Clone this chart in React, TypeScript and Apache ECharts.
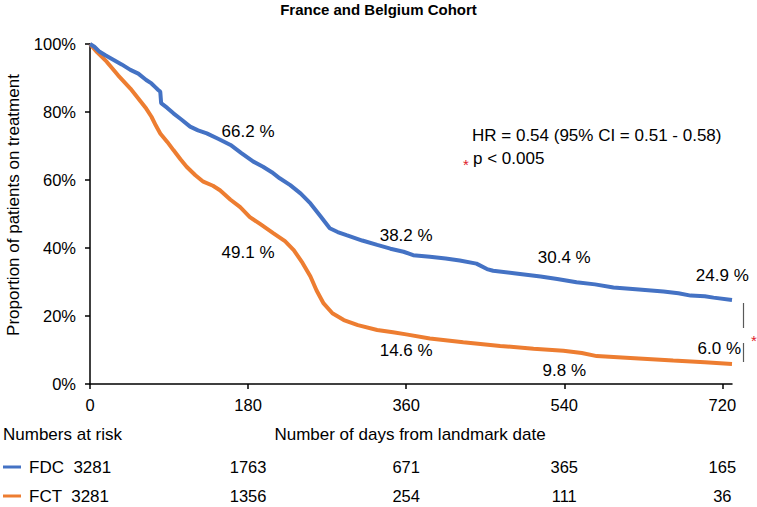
import React, { useEffect, useRef } from "react";
import * as echarts from "echarts";

const TITLE = "France and Belgium Cohort";
const Y_NAME = "Proportion of patients on treatment";
const X_NAME = "Number of days from landmark date";
const RISK_TITLE = "Numbers at risk";

const X_TICKS = [0, 180, 360, 540, 720];
const Y_TICKS = [0, 20, 40, 60, 80, 100];

const FDC_DAYS = [0, 5, 11, 18, 27, 36, 46, 55, 64, 70, 74, 78, 80, 81, 88, 95, 104, 114, 123, 133, 147, 160, 172, 186, 197, 207, 216, 228, 240, 251, 262, 273, 282, 292, 310, 327, 342, 357, 368, 387, 405, 421, 440, 452, 459, 485, 513, 532, 554, 575, 596, 625, 653, 670, 684, 700, 710, 731];
const FDC_PCT = [100, 99.2, 97.7, 96.6, 95.3, 94.0, 92.4, 91.3, 89.4, 88.4, 87.4, 86.4, 86.0, 82.6, 81.2, 79.6, 77.8, 75.7, 74.6, 73.7, 72.0, 70.3, 68.0, 65.4, 63.9, 62.3, 60.5, 58.5, 56.0, 53.1, 49.5, 45.8, 44.7, 43.8, 42.2, 40.9, 39.8, 38.9, 37.9, 37.4, 36.9, 36.3, 35.4, 33.8, 33.3, 32.5, 31.6, 30.9, 29.9, 29.3, 28.4, 27.8, 27.2, 26.7, 26.0, 25.8, 25.4, 24.7];

const FCT_DAYS = [0, 8, 19, 32, 46, 55, 64, 70, 75, 80, 88, 95, 103, 110, 120, 129, 140, 148, 160, 171, 182, 194, 209, 222, 232, 242, 251, 258, 266, 276, 289, 305, 327, 345, 360, 387, 425, 467, 505, 539, 560, 577, 620, 664, 700, 731];
const FCT_PCT = [100, 97.6, 94.8, 90.8, 86.9, 84.0, 81.0, 78.6, 76.0, 73.7, 71.2, 68.8, 66.1, 63.9, 61.4, 59.5, 58.3, 57.0, 54.2, 52.0, 49.1, 47.0, 44.3, 42.0, 39.4, 35.6, 31.6, 27.5, 23.7, 20.8, 18.8, 17.3, 15.9, 15.2, 14.6, 13.4, 12.3, 11.2, 10.4, 9.8, 9.1, 8.2, 7.6, 6.9, 6.4, 5.9];

const LABEL_DAYS = [180, 360, 540, 720];
const FDC_LABELS = ["66.2 %", "38.2 %", "30.4 %", "24.9 %"];
const FCT_LABELS = ["49.1 %", "14.6 %", "9.8 %", "6.0 %"];

const FDC_NAME = "FDC  3281";
const FCT_NAME = "FCT  3281";
const RISK_DAYS = [180, 360, 540, 720];
const FDC_RISK = [1763, 671, 365, 165];
const FCT_RISK = [1356, 254, 111, 36];

const HR_TEXT = "HR = 0.54 (95% CI = 0.51 - 0.58)";
const P_TEXT = "p < 0.005";

const BLUE = "#4472C4";
const ORANGE = "#ED7D31";
const RED = "#E0202A";
const FONT = "'Liberation Sans', Arial, sans-serif";

export default function App() {
  const ref = useRef<HTMLDivElement>(null);

  useEffect(() => {
    document.body.style.margin = "0";
    if (!ref.current) return;
    const chart = echarts.init(ref.current, undefined, { renderer: "svg" });

    const fdc = FDC_DAYS.map((d, i) => [d, FDC_PCT[i]]);
    const fct = FCT_DAYS.map((d, i) => [d, FCT_PCT[i]]);

    chart.setOption({
      animation: false,
      backgroundColor: "#ffffff",
      textStyle: { fontFamily: FONT },
      grid: { left: 90, right: 25, top: 44, bottom: 123, containLabel: false },
      xAxis: {
        type: "value",
        min: 0,
        max: 731,
        interval: 180,
        axisLine: { show: true, lineStyle: { color: "#000", width: 1.5 } },
        axisTick: { show: true, length: 5, customValues: X_TICKS, lineStyle: { color: "#000", width: 1.5 } },
        axisLabel: { customValues: X_TICKS, color: "#000", fontSize: 16.5, margin: 12, fontFamily: FONT },
        splitLine: { show: false },
      },
      yAxis: {
        type: "value",
        min: 0,
        max: 100,
        interval: 20,
        axisLine: { show: true, lineStyle: { color: "#000", width: 1.5 } },
        axisTick: { show: true, length: 5, customValues: Y_TICKS, lineStyle: { color: "#000", width: 1.5 } },
        axisLabel: { color: "#000", fontSize: 16.5, margin: 14, formatter: (v: number) => v + "%", fontFamily: FONT },
        splitLine: { show: false },
      },
      series: [
        {
          type: "line",
          name: "FCT",
          data: fct,
          showSymbol: false,
          lineStyle: { color: ORANGE, width: 4 },
          itemStyle: { color: ORANGE },
        },
        {
          type: "line",
          name: "FDC",
          data: fdc,
          showSymbol: false,
          lineStyle: { color: BLUE, width: 4 },
          itemStyle: { color: BLUE },
        },
      ],
    });

    const px = (d: number) => chart.convertToPixel({ xAxisIndex: 0 }, d) as number;

    const fdcLabelY = [131, 235, 257, 275];
    const fctLabelY = [252, 350, 370, 348];
    const fctLabelDx = [0, 0, 0, -3];

    const texts: any[] = [];
    const txt = (x: number, y: number, text: string, extra: any = {}) => ({
      type: "text",
      x,
      y,
      style: {
        text,
        fill: "#000",
        font: `17px ${FONT}`,
        align: "center",
        verticalAlign: "middle",
        ...extra,
      },
    });

    texts.push(txt(378.5, 9, TITLE, { font: `bold 15px ${FONT}` }));
    texts.push({
      type: "text",
      x: 13,
      y: 205,
      rotation: Math.PI / 2,
      style: { text: Y_NAME, fill: "#000", font: `17px ${FONT}`, align: "center", verticalAlign: "middle" },
    });
    texts.push(txt(410, 434, X_NAME));
    texts.push(txt(3, 434, RISK_TITLE, { align: "left" }));

    LABEL_DAYS.forEach((d, i) => {
      texts.push(txt(px(d), fdcLabelY[i], FDC_LABELS[i]));
      texts.push(txt(px(d) + fctLabelDx[i], fctLabelY[i], FCT_LABELS[i]));
    });

    texts.push(txt(472, 135, HR_TEXT, { align: "left" }));
    texts.push(txt(473, 158, P_TEXT, { align: "left" }));
    texts.push(txt(466, 164, "*", { fill: RED, font: `15px ${FONT}` }));
    texts.push(txt(754, 340, "*", { fill: RED, font: `15px ${FONT}` }));

    texts.push({ type: "line", shape: { x1: 743.5, y1: 303, x2: 743.5, y2: 328 }, style: { stroke: "#595959", lineWidth: 1.2 } });
    texts.push({ type: "line", shape: { x1: 743.5, y1: 343, x2: 743.5, y2: 362 }, style: { stroke: "#595959", lineWidth: 1.2 } });

    const rowY1 = 467;
    const rowY2 = 496;
    texts.push({ type: "line", shape: { x1: 3, y1: rowY1, x2: 21, y2: rowY1 }, style: { stroke: BLUE, lineWidth: 3 } });
    texts.push({ type: "line", shape: { x1: 3, y1: rowY2, x2: 21, y2: rowY2 }, style: { stroke: ORANGE, lineWidth: 3 } });
    texts.push(txt(29, rowY1, FDC_NAME, { align: "left" }));
    texts.push(txt(29, rowY2, FCT_NAME, { align: "left" }));

    RISK_DAYS.forEach((d, i) => {
      texts.push(txt(px(d), rowY1, String(FDC_RISK[i]), { font: `16.5px ${FONT}` }));
      texts.push(txt(px(d), rowY2, String(FCT_RISK[i]), { font: `16.5px ${FONT}` }));
    });

    chart.setOption({ graphic: { elements: texts } });

    return () => chart.dispose();
  }, []);

  return <div ref={ref} style={{ width: 757, height: 507 }} />;
}
